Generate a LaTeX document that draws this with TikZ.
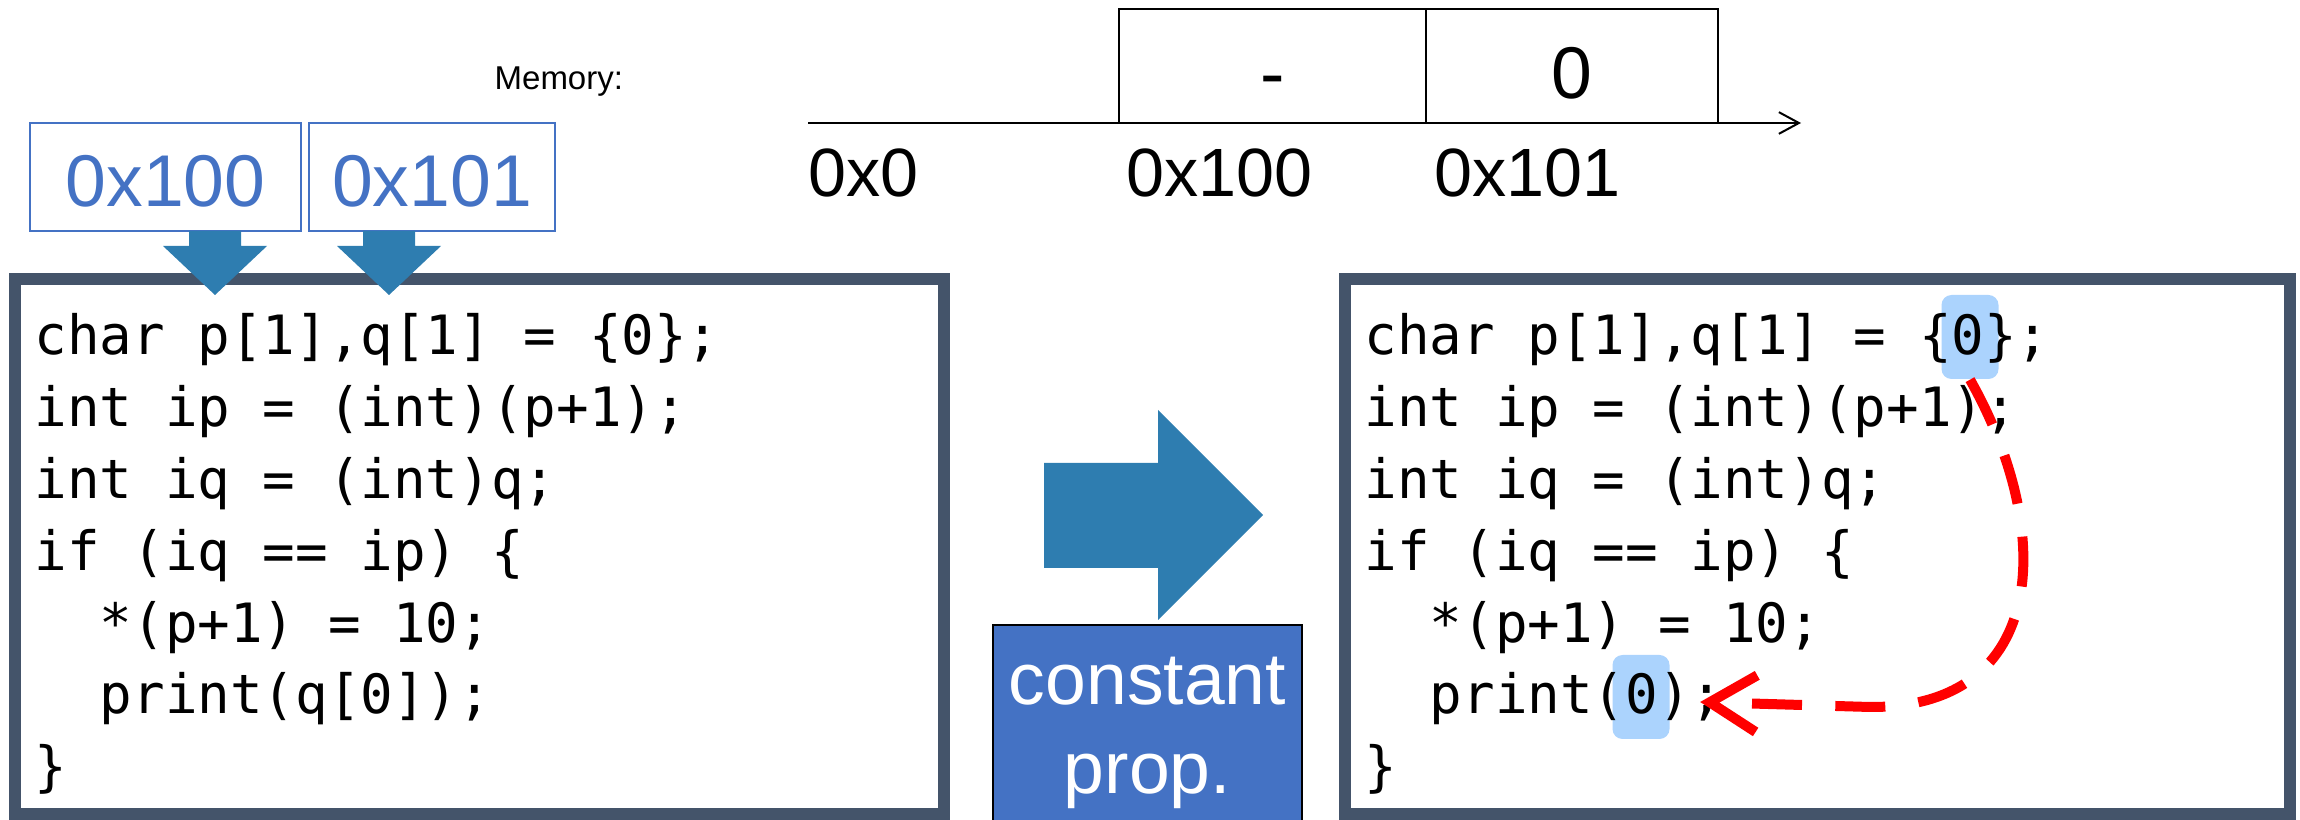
\documentclass[tikz,border=0pt]{standalone}
\usepackage{fontspec}
\setmainfont{Liberation Sans}
\newfontfamily\codefont{DejaVu Sans Mono}
\usepackage{tikz}
\usetikzlibrary{arrows.meta,calc}
\definecolor{slateframe}{RGB}{68,84,106}
\definecolor{arrowblue}{RGB}{46,125,176}
\definecolor{officeblue}{RGB}{68,114,196}
\definecolor{hiblue}{RGB}{171,211,253}

\begin{document}
\begin{tikzpicture}[x=0.3pt,y=-0.3pt,
  codebox/.style={draw=slateframe,line width=3.6pt,minimum height=160.5pt,inner sep=0pt},
  codeline/.style={anchor=base west,inner sep=0pt,font=\codefont\fontsize{16.25pt}{21.5pt}\selectfont},
  addrbox/.style={draw=officeblue,line width=0.8pt,text=officeblue,minimum height=32.4pt,inner sep=0pt,text height=18pt,text depth=0pt,font=\fontsize{22pt}{27pt}\selectfont},
  cell/.style={draw,line width=0.6pt,minimum height=34.2pt,inner sep=0pt,text height=19.8pt,text depth=0pt,font=\fontsize{22pt}{26pt}\selectfont},
  addr/.style={anchor=base west,inner sep=0pt,font=\fontsize{20.5pt}{24pt}\selectfont},
  blockarrow/.style={fill=arrowblue},
  hilite/.style={fill=hiblue,rounded corners=3pt,minimum width=17.1pt,minimum height=25.2pt,inner sep=0pt},
  flow/.style={red,line width=3pt,dash pattern=on 15pt off 10pt,-{Straight Barb[length=14pt,width=17pt]}}
]
\useasboundingbox (0,0) rectangle (2300,820);

% memory layout
\node[anchor=base west,inner sep=0pt,font=\fontsize{9.9pt}{12pt}\selectfont] (memlabel) at (494,90) {Memory:};
\coordinate (axisstart) at (808,123);
\coordinate (axisend) at (1801,123);
\draw[line width=0.6pt,-{Straight Barb[length=6pt,width=6.5pt]}] (axisstart) -- (axisend);
\node[cell,minimum width=92.1pt] (m100) at (1272.5,66) {-};
\node[cell,minimum width=87.6pt] (m101) at (1572,66) {0};
\node[addr] (a0) at (808,197) {0x0};
\node[addr] (a100) at (1126,197) {0x100};
\node[addr] (a101) at (1434,197) {0x101};

% addresses of p and q
\node[addrbox,minimum width=81.3pt] (p100) at (165.5,177) {0x100};
\node[addrbox,minimum width=73.8pt] (p101) at (432,177) {0x101};

% code boxes
\node[codebox,minimum width=278.7pt] (before) at (479.5,546.5) {};
\node[codebox,minimum width=283.5pt] (after) at (1817.5,546.5) {};

\foreach \cx in {215,389}
  \fill[blockarrow] ({\cx-26},231) -- ({\cx+26},231) -- ({\cx+26},246) -- ({\cx+52},246) -- (\cx,295) -- ({\cx-52},246) -- ({\cx-26},246) -- cycle;

\foreach \t [count=\i from 0] in {{char p[1],q[1] = \{0\};},{int ip = (int)(p+1);},{int iq = (int)q;},{if (iq == ip) \{},{\phantom{xx}*(p+1) = 10;},{\phantom{xx}print(q[0]);},{\}}}
  \node[codeline] (l\i) at (34,{355+71.8*\i}) {\t};

% transformation
\fill[blockarrow] (1044,463) -- (1158,463) -- (1158,410) -- (1263,515) -- (1158,620) -- (1158,568) -- (1044,568) -- cycle;
\node[draw=black,line width=0.6pt,fill=officeblue,text=white,align=center,minimum width=92.7pt,minimum height=64.5pt,inner sep=0pt,font=\fontsize{22pt}{26.7pt}\selectfont] (cprop) at (1147.5,732.5) {constant\\prop.};

% after constant propagation
\node[hilite] (zeroA) at (1970,337) {};
\node[hilite] (zeroB) at (1641,697) {};
\foreach \t [count=\i from 0] in {{char p[1],q[1] = \{0\};},{int ip = (int)(p+1);},{int iq = (int)q;},{if (iq == ip) \{},{\phantom{xx}*(p+1) = 10;},{\phantom{xx}print(0);},{\}}}
  \node[codeline] (r\i) at (1364,{355+71.8*\i}) {\t};

\draw[flow] (zeroA.south) .. controls (2055,530) and (2050,708) .. (1870,707) -- ($(zeroB.east)+(30,5)$);
\end{tikzpicture}
\end{document}
